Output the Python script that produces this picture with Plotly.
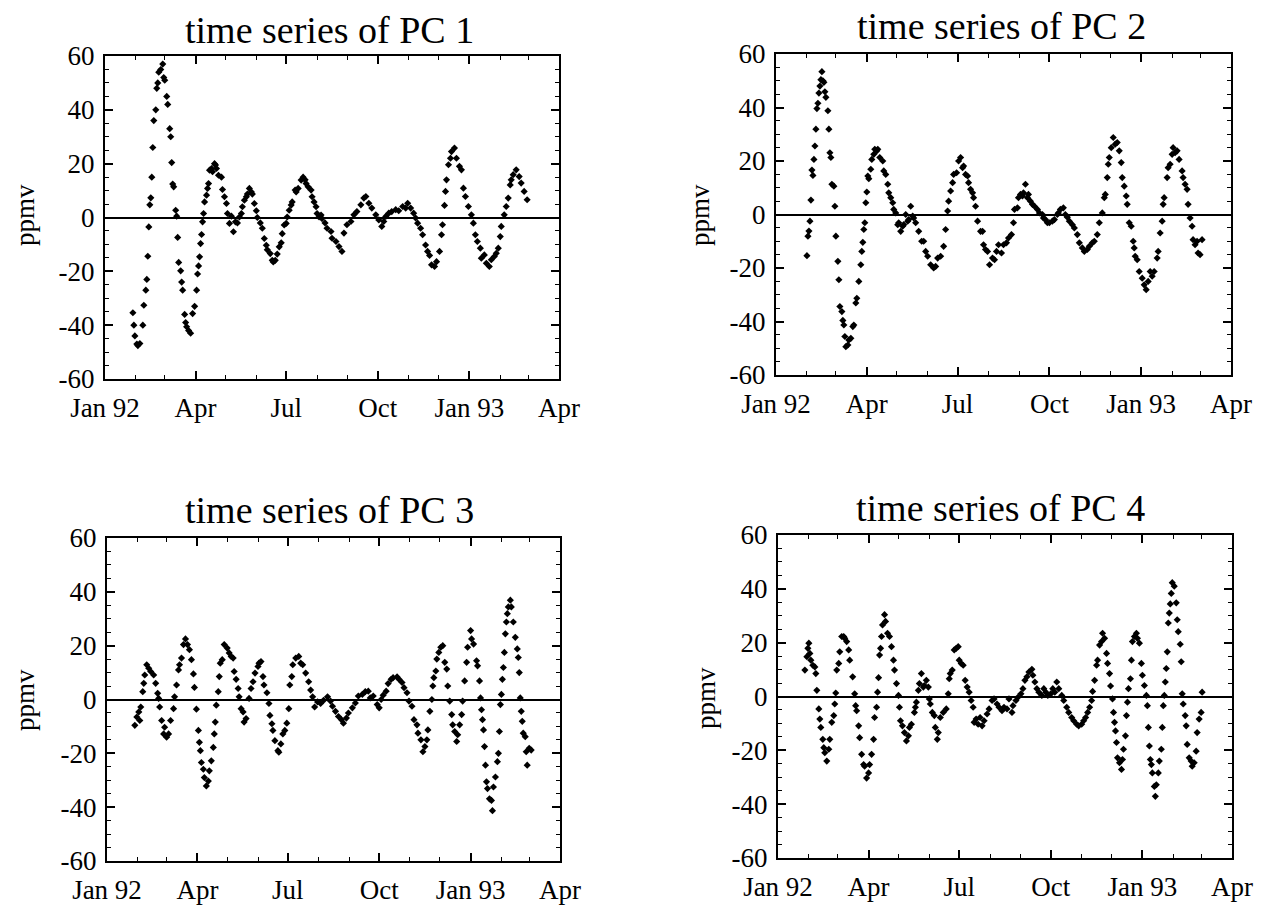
import plotly.graph_objects as go
import pandas as pd

# ---------------- data (day offsets from 1 Jan 1992, values in ppmv) ----------------
pc1_day = [28,29,30,32,33,35,38,39,41,42,43,44,45,46,47,48,49,51,52,53,54,56,58,59,60,62,63,65,66,67,68,69,71,72,73,74,76,77,78,80,81,82,84,86,88,90,92,93,94,95,96,97,98,99,100,102,103,104,105,107,108,110,111,112,114,117,118,120,122,123,125,127,129,131,133,135,137,138,140,142,143,145,147,148,150,152,153,156,158,160,162,163,166,168,169,171,173,175,177,178,180,182,183,185,187,188,191,192,194,197,199,201,202,204,207,208,210,212,213,215,217,218,221,223,
           227,228,232,235,238,240,243,247,250,253,257,260,262,265,268,272,275,278,280,282,285,288,292,295,299,302,304,307,310,312,314,317,319,322,324,326,328,331,333,336,338,339,341,342,343,345,347,348,351,353,356,358,360,362,365,368,370,372,374,377,378,381,383,386,388,391,393,395,397,398,401,403,405,407,408,410,413,416,418,421,424]
pc1_val = [-35.4,-40,-44,-47,-47.6,-46.8,-40,-32.6,-27,-23,-14.4,-3.5,4.7,7.3,15,26,36,40,48,50,54,55,57,52,51,45,42,33,30,20.4,12.4,11.4,2.7,0.5,-7.4,-16.7,-19.8,-24,-27,-36,-39,-40.6,-42,-43,-35.7,-33,-27,-21,-18,-14.6,-9.7,-6.3,-1.6,1.5,5.8,8.3,10.8,12.6,17.6,18.2,17,20,19.5,18.2,15.7,15,10.4,7.7,5.2,1.5,-2.2,0.5,-5.3,-1.6,-2,0.2,1.5,4,6.4,7.7,8.7,10.8,9.5,8.7,5.2,2.5,0,-2,-4,-7.8,-10.3,-12,-13.4,-15.9,-16.5,-15.9,-13.6,-10.9,-9.4,-6,-2.8,-2.2,0.2,2.7,4.6,5.8,10.2,9.5,10.8,13.9,15,14,12.6,11.4,10.2,7.7,5.8,4,1.5,0.2,0.9,-0.4,-2,-4,
           -5.2,-7.7,-8.9,-10.8,-12.6,-5.8,-2.7,-1.5,1,2.2,4.7,7.2,7.8,5.3,3.5,1,-0.9,-3.3,-1.5,0.4,1.6,2.2,2.9,2.5,4.1,3.5,5.3,3.5,1.6,-0.2,-2.1,-4,-6.4,-10.2,-12.6,-14.1,-17.6,-18.2,-16.4,-12.6,-6.4,-2.7,4.5,9.7,14,19.6,22,24.5,25.8,22,19,17.7,10.9,7.8,4.1,1,-2.1,-6.4,-8.9,-11.4,-15.1,-13.9,-17,-18.2,-15.7,-14.5,-13.3,-11.4,-7.1,-3.3,1,4.1,7.2,12.1,14,15.9,17.7,15.2,12.8,9.7,6.6]

pc2_day = [31,32,33,34,35,36,37,38,39,40,41,42,43,44,45,46,47,48,49,50,52,53,54,55,56,58,59,60,62,63,64,66,67,68,69,70,72,73,75,77,78,80,81,83,85,86,87,88,89,90,91,92,93,95,96,98,99,101,102,104,107,108,110,112,113,115,117,118,120,122,123,125,127,128,130,132,133,135,137,138,140,143,146,148,150,152,155,158,160,162,165,168,170,172,173,175,177,178,181,183,185,187,188,190,192,193,195,197,198,200,202,205,
           207,208,210,212,214,217,219,221,223,226,228,231,233,236,238,239,242,243,245,247,248,250,252,253,255,257,259,262,264,267,268,270,272,274,277,279,282,283,285,288,290,292,294,297,299,302,304,307,309,312,314,317,319,322,324,327,329,330,332,333,334,336,338,340,342,344,346,347,349,351,352,354,356,358,359,360,362,364,367,369,371,373,375,377,379,382,383,385,387,388,389,392,393,395,397,398,400,402,404,407,408,410,412,413,415,417,418,420,422,423,425,427]
pc2_val = [-15.4,-8.1,-6.2,-2.5,5.4,16.6,14.6,20.6,25.6,31.9,39.6,41.6,45.4,48,50.4,53.4,50,49.4,45.9,43.8,38.8,31.9,23.1,21.3,11.3,10.6,3.1,-8.1,-17.5,-24.4,-34.4,-36.3,-39.6,-41.3,-45.6,-49.4,-48.8,-46.9,-46.3,-41.9,-41.3,-33.1,-31.3,-25,-18.8,-13.8,-10.4,-5.6,-3.1,4.4,8.4,14.4,13.4,16.9,20.6,22.5,24.4,23.8,24.4,21.3,20,16.3,15,11.3,8.1,6.3,4.4,1.9,0.6,-3.8,-3.1,-6.3,-4.4,-3.8,0,-2.5,-1.9,3.1,-0.6,-1.3,-3.1,-6.3,-10,-10,-13.8,-15.6,-18.8,-20,-19.4,-16.3,-15.6,-11.9,-5.6,1.3,5,8.8,11.9,15,15.6,20,21.3,17.5,18.1,15,14.4,11.9,9.4,8.1,6.3,3.1,-2.5,-6.3,
           -6.3,-11.3,-13.1,-13.8,-18.8,-16.3,-16.9,-13.8,-11.3,-14.4,-11.3,-10.6,-8.8,-7.5,-3.1,1.9,2.5,6.3,7.5,6.9,8.1,11.3,6.3,7.5,5,3.8,3.1,1.9,0.6,0,-1.3,-1.9,-3.1,-3.1,-2.5,-1.9,0,0.6,1.9,2.5,0,-1,-2.5,-3.8,-5,-7.5,-10.6,-12.5,-13.8,-13.1,-11.9,-10.6,-10,-7.5,-3.1,0.6,6.3,7.5,13.8,18.8,21.3,25,28.8,26.3,26.9,23.8,19.4,13.8,10.6,6.9,3.8,-3.1,-4.4,-10,-12.5,-15.6,-16.9,-21.3,-23.8,-26.3,-28.1,-25,-21.3,-23.1,-21.3,-16.3,-13.8,-6.9,-2.5,3.8,6.3,13.8,17.5,18.8,22.5,25,23.1,23.8,20.6,16.3,13.8,11.3,9.4,3.8,-1.3,-4.4,-9.4,-11.3,-10,-14.4,-15,-9.4]

pc3_day = [28,30,32,33,34,36,37,38,40,42,44,47,49,51,52,53,55,57,58,60,62,64,67,68,70,72,73,75,77,79,81,83,85,87,88,90,92,93,94,95,97,98,100,102,103,105,107,108,109,110,112,113,114,116,118,121,123,125,127,128,130,132,133,135,137,138,140,143,145,147,149,152,153,155,157,158,161,163,164,166,167,169,172,173,175,177,179,181,183,184,186,187,190,193,195,197,200,203,205,207,209,212,215,218,222,
           225,227,230,233,236,238,241,243,247,250,253,257,260,263,265,268,272,274,276,278,281,283,286,288,292,294,297,299,302,304,307,309,312,313,316,318,320,322,323,325,327,328,329,331,332,334,336,338,340,342,343,345,347,348,350,352,353,355,357,358,360,362,363,366,367,369,372,373,375,376,377,378,379,380,381,382,383,385,387,388,389,391,393,394,395,396,397,398,399,400,401,402,403,404,406,407,409,411,413,414,415,416,417,418,419,421,422,423,425,427]
pc3_val = [-9.6,-6.5,-4.6,-7.8,-2.8,2.9,6,9.1,12.9,11.6,10.4,9.1,6,2.3,0.4,-2.8,-7.8,-12.8,-10.3,-14,-12.8,-7.8,-3.4,1,5.4,11,12.9,15.4,20.4,22.5,20.4,18.5,14.8,9.5,4.5,-3.6,-11.5,-15.9,-19,-23.4,-25.9,-29,-32.1,-30.3,-26.5,-22.8,-17.8,-12.8,-8.4,-2.1,2.9,8.5,13.5,14.8,20.4,19.1,17.3,16,15.4,10.4,7.5,4.1,1,-3.4,-4.6,-8.4,-7.1,0.4,4.1,6.6,9.8,12.3,13.5,14.1,8.5,5.4,2.5,-1.5,-5.9,-9,-11.5,-15.3,-19,-19.6,-16.5,-12.8,-11.5,-8.8,-3.4,5.4,8.5,12.9,15.4,16,13.5,12.9,9.8,6.6,3.5,1,-2.8,-0.9,-1.5,-0.3,1,
           -0.6,-2.5,-4.4,-6.3,-7.5,-8.8,-6.9,-5,-3.1,-1.3,1.3,1.9,2.9,3.1,0.6,1.3,-1.9,-3.1,0,1.6,3.1,5.9,7.5,8.1,8.4,7.5,6.3,4.4,2.5,-0.6,-2.5,-7.5,-9.4,-12.5,-15,-19.4,-17.5,-15,-11.3,-4.4,0,5,8.1,10.6,15,17.5,19.4,20,13.8,11.3,5,-0.6,-5.6,-9.4,-11.9,-15.6,-13.1,-9.4,-5.6,-0.6,6.9,13.8,19.4,25.6,22.5,20.6,14.4,12.5,6.9,0.6,-3.8,-7.5,-11.3,-17.5,-24.4,-30.6,-33.1,-36.9,-37.5,-41.3,-32.5,-28.8,-23.1,-20,-11.9,-1.9,1.9,7.5,11.9,17.5,24.4,28.8,31.9,34.4,36.9,34.4,28.8,23.1,18.8,15.6,10,0.6,-4.4,-8.1,-12.5,-13.8,-19.4,-24.4,-18.1,-18.8]

pc4_day = [27,29,30,31,32,33,35,37,38,39,41,42,43,45,46,47,49,51,52,54,56,57,58,59,61,62,64,66,67,69,71,72,75,77,78,79,81,82,84,86,87,89,91,92,94,96,97,99,100,101,102,103,104,105,107,108,110,112,114,116,117,119,121,122,123,125,127,129,131,132,134,137,138,139,141,142,144,146,147,149,151,152,153,155,157,158,160,161,163,166,169,171,172,173,175,177,179,181,182,184,186,188,190,192,194,196,197,199,201,203,
           205,207,210,212,215,217,220,222,225,227,230,232,235,236,239,241,244,246,248,250,252,255,256,258,260,262,265,267,269,271,274,276,278,280,282,285,287,290,292,295,297,300,302,305,307,309,311,313,315,316,318,320,321,323,325,326,328,330,331,333,334,336,337,338,339,340,341,343,345,346,347,349,350,351,352,354,355,356,358,360,361,363,365,366,368,370,371,372,373,374,375,376,378,379,380,382,383,385,386,387,388,389,390,391,392,393,394,395,396,398,400,401,402,404,405,406,407,409,410,411,413,415,416,418,420,421,423,425,426]
pc4_val = [9.8,14.8,17.9,19.8,16,13.5,11.6,11,8.5,2.3,-4.6,-8.4,-11.5,-15.9,-19,-20.9,-24,-19.6,-15.9,-9.6,-7.1,-2.8,1.3,9.8,12.3,16.6,22.3,22.3,21.6,20.4,17.3,13.5,7.3,1,-3.4,-5.3,-10.9,-15.3,-21.5,-25.3,-25.9,-30.3,-28.4,-25.3,-21.5,-15.9,-7.8,-4,1.6,7,15.4,17.9,22.3,26.6,30.4,27.9,23.5,22.3,18.5,13.5,9.8,4.8,0.4,-4,-9,-10.9,-13.4,-16.5,-14.6,-11.5,-10.3,-5.9,-4,-2.1,2.3,4.8,8.5,3.5,4.1,6,3.5,-0.9,-2.8,-5.9,-7.1,-11.5,-15.9,-13.4,-7.8,-5.9,-4.6,1,6.6,8.5,9.8,17.3,17.9,18.5,13.5,12.3,11.6,6,3.5,1.6,-1.5,-4,-9.6,-8.4,-10.3,-7.8,
           -10.9,-9,-6.5,-4.6,-1.5,-0.9,-2.8,-4,-5.3,-4,-4.6,-0.9,-5.9,-3.4,-1.5,-0.3,1,2.9,6,7.3,9.1,10.1,7.9,5.4,2.9,1.6,0.4,2.9,1.6,0.4,1,2.9,1.6,5.4,2.9,0.4,-1.5,-4,-5.9,-7.8,-9,-10.3,-10.9,-10.3,-9,-7.8,-5.9,-4,-1.5,1.9,6,11.6,13.5,19.1,20.4,23.5,21.6,16,12.3,8.5,3.9,-0.9,-5.9,-9.6,-12.8,-17.1,-22.8,-24.6,-27.1,-23.4,-19.6,-14.6,-7.1,-2.1,2.9,6.6,13.5,20.4,22.3,23.5,21.6,19.8,12.3,7.9,4.1,0.4,-3.4,-11.5,-18.4,-23.4,-25.3,-28.4,-33.4,-37.1,-32.8,-28.4,-24,-19.6,-11.5,-3.4,0.4,5.4,10.4,16.6,27.3,31,34.4,38.3,42.3,41,34.8,28.5,24.1,19.4,12.9,1,-2.8,-7.1,-10.9,-17.8,-22.8,-24,-25.9,-24.6,-20.3,-13.4,-8.4,-5.9,1.6]

titles = ["time series of PC 1", "time series of PC 2", "time series of PC 3", "time series of PC 4"]
x_tick_dates = ["1992-01-01", "1992-04-01", "1992-07-01", "1992-10-01", "1993-01-01", "1993-04-01"]
x_tick_text = ["Jan 92", "Apr", "Jul", "Oct", "Jan 93", "Apr"]
y_ticks = [-60, -40, -20, 0, 20, 40, 60]
y_tick_text = ["-60", "-40", "-20", "0", "20", "40", "60"]
y_label = "ppmv"

# ---------------- layout geometry ----------------
W, H = 1266, 906
boxes = [  # left, right, top, bottom in pixels
    (105, 559, 56, 379),
    (776, 1231, 54, 375),
    (107, 560, 538, 861),
    (778, 1232, 535, 858),
]
title_pos = [(329, 30), (1001, 26), (329, 510), (1000, 508)]
ylab_pos = [(25, 215), (700, 215), (25, 700), (706, 698)]

FONT = "Liberation Serif, Times New Roman, serif"
start = pd.Timestamp("1992-01-01")
minor_x = [d.strftime("%Y-%m-%d") for d in pd.date_range("1992-01-01", "1993-04-01", freq="MS")]

series = [(pc1_day, pc1_val), (pc2_day, pc2_val), (pc3_day, pc3_val), (pc4_day, pc4_val)]

fig = go.Figure()
layout = dict(
    width=W, height=H, margin=dict(l=0, r=0, t=0, b=0, autoexpand=False),
    paper_bgcolor="white", plot_bgcolor="white", showlegend=False,
    font=dict(family=FONT, color="black"),
)
annotations = []
for i, (days, vals) in enumerate(series):
    n = "" if i == 0 else str(i + 1)
    dates = [start + pd.Timedelta(days=d) for d in days]
    fig.add_trace(go.Scatter(
        x=dates, y=vals, mode="markers", xaxis="x" + n, yaxis="y" + n,
        marker=dict(symbol="diamond", size=5.5, color="black", line=dict(width=0)),
        hoverinfo="x+y",
    ))
    l, r, t, b = boxes[i]
    layout["xaxis" + n] = dict(
        domain=[l / W, r / W], anchor="y" + n, type="date", automargin=False,
        range=["1992-01-01", "1993-04-01"],
        tickmode="array", tickvals=x_tick_dates, ticktext=x_tick_text,
        ticks="inside", ticklen=8, tickwidth=1.5, tickcolor="black",
        showline=True, linewidth=2, linecolor="black", mirror="ticks",
        showgrid=False, zeroline=False,
        tickfont=dict(family=FONT, size=27, color="black"),
        ticklabelstandoff=4,
        minor=dict(tickmode="array", tickvals=minor_x, ticks="inside", ticklen=4,
                   tickwidth=1, tickcolor="black", showgrid=False),
    )
    layout["yaxis" + n] = dict(
        domain=[1 - b / H, 1 - t / H], anchor="x" + n, automargin=False,
        range=[-60, 60], tickmode="array", tickvals=y_ticks, ticktext=y_tick_text,
        ticks="inside", ticklen=8, tickwidth=1.5, tickcolor="black",
        showline=True, linewidth=2, linecolor="black", mirror="ticks",
        showgrid=False, zeroline=True, zerolinecolor="black", zerolinewidth=2,
        tickfont=dict(family=FONT, size=27, color="black"),
        ticklabelstandoff=3,
        minor=dict(dtick=5, tick0=0, ticks="inside", ticklen=4, tickwidth=1,
                   tickcolor="black", showgrid=False),
    )
    tx, ty = title_pos[i]
    annotations.append(dict(text=titles[i], x=tx / W, y=1 - ty / H, xref="paper", yref="paper",
                            xanchor="center", yanchor="middle", showarrow=False,
                            font=dict(family=FONT, size=38, color="black")))
    lx, ly = ylab_pos[i]
    annotations.append(dict(text=y_label, x=lx / W, y=1 - ly / H, xref="paper", yref="paper",
                            xanchor="center", yanchor="middle", showarrow=False, textangle=-90,
                            font=dict(family=FONT, size=27, color="black")))
layout["annotations"] = annotations
fig.update_layout(**layout)
fig.write_html("out.html")
